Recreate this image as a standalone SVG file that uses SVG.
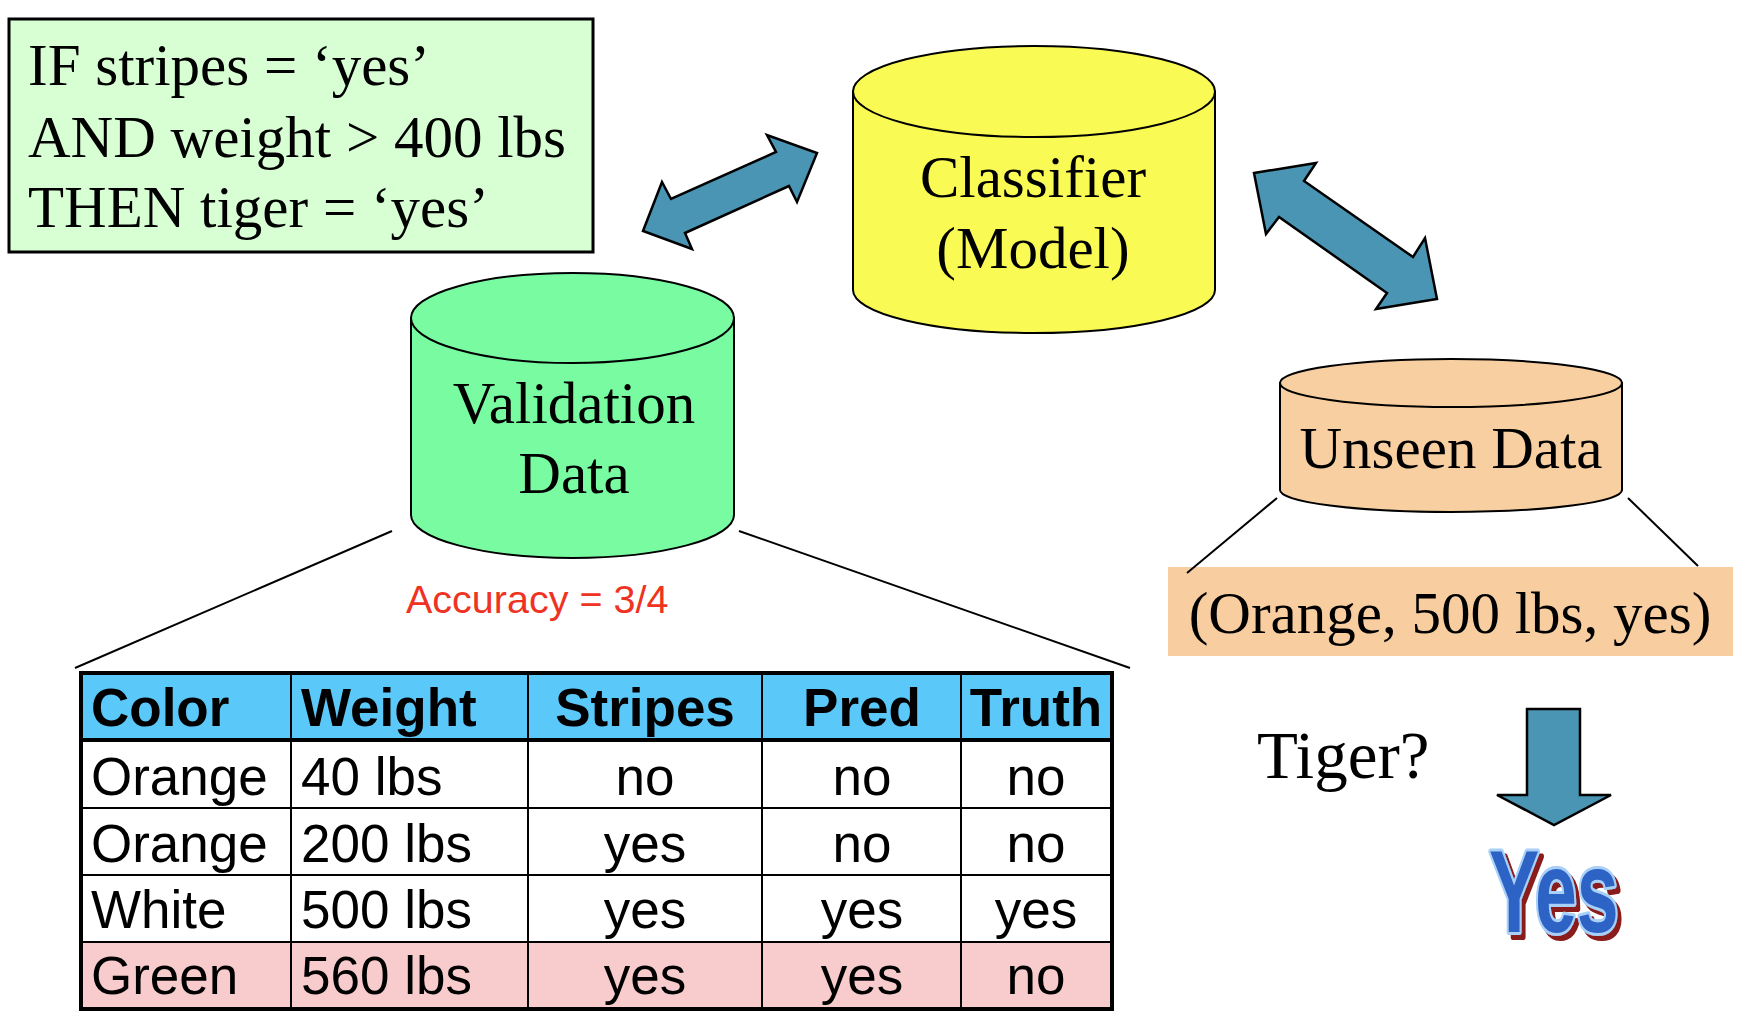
<svg xmlns="http://www.w3.org/2000/svg" width="1746" height="1024" viewBox="0 0 1746 1024">
<style>
.serif{font-family:"Liberation Serif","Times New Roman",serif;font-size:59px;fill:#000}
.sans{font-family:"Liberation Sans",Arial,sans-serif;font-size:53px;fill:#000}
.hdr{font-weight:bold}
.mid{text-anchor:middle}
.cyl{stroke:#000;stroke-width:2}
.arrow{fill:#4A94B4;stroke:#000;stroke-width:2.5;stroke-linejoin:miter}
.conn{stroke:#000;stroke-width:2;fill:none}
.grid{stroke:#000;stroke-width:2;fill:none}
</style>
<defs>
<filter id="shadow" x="-20%" y="-20%" width="150%" height="150%">
<feOffset in="SourceAlpha" dx="6" dy="5" result="off"/>
<feFlood flood-color="#8B1A1A"/>
<feComposite in2="off" operator="in" result="sh"/>
<feMerge><feMergeNode in="sh"/><feMergeNode in="SourceGraphic"/></feMerge>
</filter>
</defs>
<rect width="1746" height="1024" fill="#fff"/>

<g id="rule">
<rect x="9" y="19" width="584" height="233" fill="#D8FFD4" stroke="#000" stroke-width="3"/>
<text class="serif" x="28" y="85">IF stripes = ‘yes’</text>
<text class="serif" x="28" y="157">AND weight &gt; 400 lbs</text>
<text class="serif" x="28" y="227">THEN tiger = ‘yes’</text>
</g>

<g id="classifier">
<path class="cyl" fill="#FAFA55" d="M853,91.5 V290 A181,43 0 0 0 1215,290 V91.5 Z"/>
<ellipse class="cyl" fill="#FAFA55" cx="1034" cy="91.5" rx="181" ry="45.5"/>
<text class="serif mid" x="1033" y="197">Classifier</text>
<text class="serif mid" x="1033" y="268">(Model)</text>
</g>

<g id="validation">
<path class="cyl" fill="#79FCA1" d="M411,318 V515 A161.5,43 0 0 0 734,515 V318 Z"/>
<ellipse class="cyl" fill="#79FCA1" cx="572.5" cy="318" rx="161.5" ry="45"/>
<text class="serif mid" x="574" y="423">Validation</text>
<text class="serif mid" x="574" y="493">Data</text>
</g>

<g id="accuracy">
<text x="406" y="613" font-family="Liberation Sans,Arial,sans-serif" font-size="39.5" fill="#EE3322">Accuracy = 3/4</text>
</g>

<g id="unseen">
<path class="cyl" fill="#F8CFA0" d="M1280,383 V490 A171,22 0 0 0 1622,490 V383 Z"/>
<ellipse class="cyl" fill="#F8CFA0" cx="1451" cy="383" rx="171" ry="24"/>
<text class="serif mid" x="1451" y="468">Unseen Data</text>
</g>

<g id="instance">
<rect x="1168" y="567" width="565" height="89" fill="#F8CDA0"/>
<text class="serif mid" x="1450" y="633">(Orange, 500 lbs, yes)</text>
</g>

<g id="table">
<rect x="81" y="673" width="1031" height="67" fill="#5BC8FA"/>
<rect x="81" y="740" width="1031" height="202" fill="#fff"/>
<rect x="81" y="942" width="1031" height="67" fill="#F8CCCC"/>
<g class="grid">
<line x1="291" y1="673" x2="291" y2="1009"/>
<line x1="528" y1="673" x2="528" y2="1009"/>
<line x1="762" y1="673" x2="762" y2="1009"/>
<line x1="961" y1="673" x2="961" y2="1009"/>
<line x1="81" y1="808" x2="1112" y2="808"/>
<line x1="81" y1="875" x2="1112" y2="875"/>
<line x1="81" y1="942" x2="1112" y2="942"/>
</g>
<line x1="81" y1="740" x2="1112" y2="740" stroke="#000" stroke-width="4"/>
<rect x="81" y="673" width="1031" height="336" fill="none" stroke="#000" stroke-width="4"/>
<text class="sans hdr" x="91" y="726">Color</text>
<text class="sans hdr" x="301" y="726">Weight</text>
<text class="sans hdr mid" x="645" y="726">Stripes</text>
<text class="sans hdr mid" x="862" y="726">Pred</text>
<text class="sans hdr mid" x="1036" y="726">Truth</text>
<text class="sans" x="91" y="795">Orange</text>
<text class="sans" x="301" y="795">40 lbs</text>
<text class="sans mid" x="645" y="795">no</text>
<text class="sans mid" x="862" y="795">no</text>
<text class="sans mid" x="1036" y="795">no</text>
<text class="sans" x="91" y="862">Orange</text>
<text class="sans" x="301" y="862">200 lbs</text>
<text class="sans mid" x="645" y="862">yes</text>
<text class="sans mid" x="862" y="862">no</text>
<text class="sans mid" x="1036" y="862">no</text>
<text class="sans" x="91" y="928">White</text>
<text class="sans" x="301" y="928">500 lbs</text>
<text class="sans mid" x="645" y="928">yes</text>
<text class="sans mid" x="862" y="928">yes</text>
<text class="sans mid" x="1036" y="928">yes</text>
<text class="sans" x="91" y="994">Green</text>
<text class="sans" x="301" y="994">560 lbs</text>
<text class="sans mid" x="645" y="994">yes</text>
<text class="sans mid" x="862" y="994">yes</text>
<text class="sans mid" x="1036" y="994">no</text>
</g>

<g id="tiger">
<text x="1257" y="778" font-family="Liberation Serif,Times New Roman,serif" font-size="67" fill="#000">Tiger?</text>
</g>

<g id="yes">
<text transform="translate(1489,932) scale(0.66,1.02)" font-family="Liberation Sans,Arial,sans-serif" font-weight="bold" font-size="114" fill="#2E63C6" stroke="#A8D0F8" stroke-width="6" stroke-linejoin="round" paint-order="stroke" filter="url(#shadow)">Yes</text>
</g>

<g id="connectors">
<polygon class="arrow" points="643,231 662,182 671,199 776,152 767,135 817,153 797,202 789,186 685,233 692,249"/>
<polygon class="arrow" points="1254,173 1316,163 1304,181 1413,257 1425,238 1437,299 1376,309 1387,293 1279,217 1266,234"/>
<polygon class="arrow" points="1527,709 1580,709 1580,795 1611,795 1554,825 1497,795 1527,795"/>
<line class="conn" x1="392" y1="531" x2="75" y2="668"/>
<line class="conn" x1="739" y1="531" x2="1130" y2="668"/>
<line class="conn" x1="1277" y1="498" x2="1187" y2="573"/>
<line class="conn" x1="1628" y1="498" x2="1698" y2="566"/>
</g>
</svg>
